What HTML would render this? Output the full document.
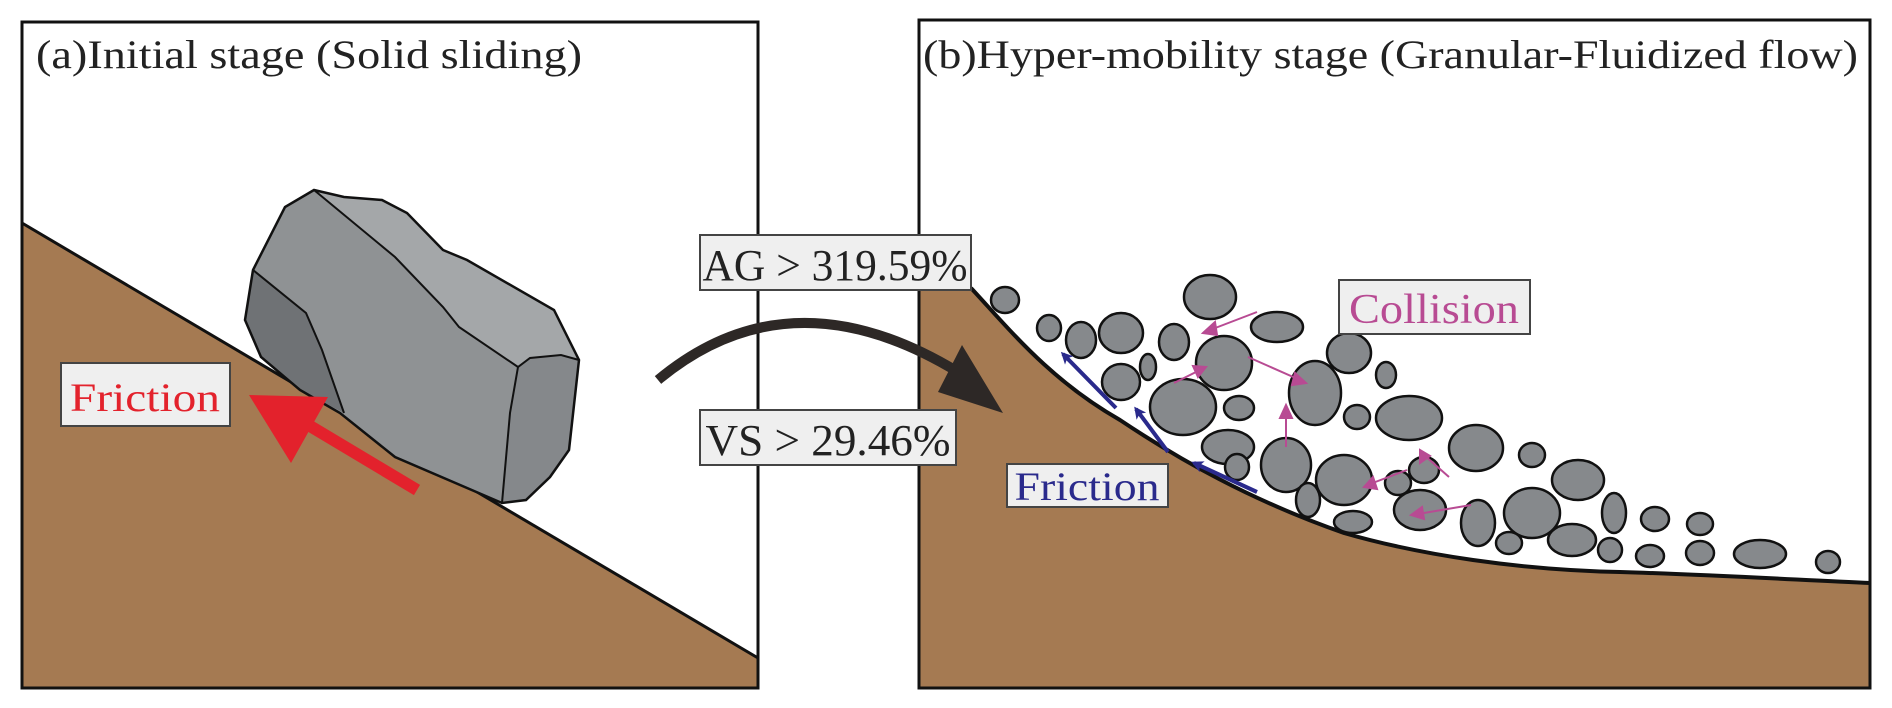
<!DOCTYPE html>
<html><head><meta charset="utf-8"><style>html,body{margin:0;padding:0;background:#fff}svg{display:block}</style></head>
<body>
<svg width="1892" height="708" viewBox="0 0 1892 708" xmlns="http://www.w3.org/2000/svg" font-family="Liberation Serif, serif">
<defs>
<marker id="mb" markerWidth="12" markerHeight="12" refX="9" refY="6" orient="auto" markerUnits="userSpaceOnUse"><path d="M0,0 L12,6 L0,12 L3,6z" fill="#2a2a8c"/></marker>
</defs>
<rect width="1892" height="708" fill="#fff"/>
<polygon points="22,223 758,658 758,688 22,688" fill="#a57a52"/>
<line x1="22" y1="223" x2="758" y2="658" stroke="#111" stroke-width="3"/>
<rect x="22" y="22" width="736" height="666" fill="none" stroke="#111" stroke-width="3"/>
<text x="36" y="68" font-size="40" fill="#222" textLength="546" lengthAdjust="spacingAndGlyphs">(a)Initial stage (Solid sliding)</text>
<polygon points="314,190 344,197 382,200 407,213 443,250 467,260 554,310 579,360 569,450 550,477 526,500 502,503 395,457 340,413 300,390 261,357 245,320 253,270 285,207" fill="#8f9294"/>
<polygon points="253,270 306,313 322,350 344,413 300,390 261,357 245,320" fill="#6f7275"/>
<polygon points="314,190 344,197 382,200 407,213 443,250 467,260 554,310 579,360 561,355 530,358 518,367 459,327 443,307 395,257" fill="#a4a7a9"/>
<polygon points="518,367 530,358 561,355 579,360 569,450 550,477 526,500 502,503 510,413" fill="#85888b"/>
<polyline points="253,270 306,313 322,350 344,413" fill="none" stroke="#111" stroke-width="2"/>
<polyline points="314,190 395,257 443,307 459,327 518,367 530,358 561,355 579,360" fill="none" stroke="#111" stroke-width="2"/>
<polyline points="518,367 510,413 502,503" fill="none" stroke="#111" stroke-width="2"/>
<polygon points="314,190 344,197 382,200 407,213 443,250 467,260 554,310 579,360 569,450 550,477 526,500 502,503 395,457 340,413 300,390 261,357 245,320 253,270 285,207" fill="none" stroke="#111" stroke-width="2.5"/>
<line x1="417" y1="490" x2="300" y2="420" stroke="#e3222c" stroke-width="12"/>
<polygon points="249,395 328,397 291,463" fill="#e3222c"/>
<rect x="61" y="363" width="169" height="63" fill="#efefef" stroke="#444" stroke-width="2"/>
<text x="145" y="411" font-size="40" fill="#e3222c" text-anchor="middle" textLength="150" lengthAdjust="spacingAndGlyphs">Friction</text>
<path d="M919,290 L971,288 C1010,330 1050,380 1120,420 C1180,460 1250,500 1344,533 C1420,555 1520,570 1620,572 C1720,575 1800,580 1870,583 L1870,688 L919,688 Z" fill="#a57a52"/>
<path d="M971,288 C1010,330 1050,380 1120,420 C1180,460 1250,500 1344,533 C1420,555 1520,570 1620,572 C1720,575 1800,580 1870,583" fill="none" stroke="#111" stroke-width="4"/>
<rect x="919" y="20" width="951" height="668" fill="none" stroke="#111" stroke-width="3"/>
<text x="923" y="68" font-size="40" fill="#222" textLength="935" lengthAdjust="spacingAndGlyphs">(b)Hyper-mobility stage (Granular-Fluidized flow)</text>
<g fill="#86898c" stroke="#111" stroke-width="2.5">
<ellipse cx="1005" cy="300" rx="14" ry="13"/>
<ellipse cx="1049" cy="328" rx="12" ry="13"/>
<ellipse cx="1081" cy="340" rx="15" ry="18"/>
<ellipse cx="1121" cy="333" rx="22" ry="20"/>
<ellipse cx="1174" cy="342" rx="15" ry="18"/>
<ellipse cx="1210" cy="297" rx="26" ry="22"/>
<ellipse cx="1277" cy="327" rx="26" ry="15"/>
<ellipse cx="1224" cy="363" rx="28" ry="27"/>
<ellipse cx="1121" cy="382" rx="19" ry="18"/>
<ellipse cx="1148" cy="367" rx="8" ry="13"/>
<ellipse cx="1183" cy="407" rx="33" ry="28"/>
<ellipse cx="1239" cy="408" rx="15" ry="12"/>
<ellipse cx="1228" cy="447" rx="26" ry="17"/>
<ellipse cx="1237" cy="467" rx="12" ry="13"/>
<ellipse cx="1315" cy="393" rx="26" ry="32"/>
<ellipse cx="1349" cy="353" rx="22" ry="20"/>
<ellipse cx="1386" cy="375" rx="10" ry="13"/>
<ellipse cx="1357" cy="417" rx="13" ry="12"/>
<ellipse cx="1409" cy="418" rx="33" ry="22"/>
<ellipse cx="1286" cy="465" rx="25" ry="27"/>
<ellipse cx="1344" cy="480" rx="28" ry="25"/>
<ellipse cx="1398" cy="483" rx="13" ry="12"/>
<ellipse cx="1424" cy="470" rx="15" ry="13"/>
<ellipse cx="1476" cy="448" rx="27" ry="23"/>
<ellipse cx="1532" cy="455" rx="13" ry="12"/>
<ellipse cx="1578" cy="480" rx="26" ry="20"/>
<ellipse cx="1532" cy="513" rx="28" ry="25"/>
<ellipse cx="1478" cy="523" rx="17" ry="23"/>
<ellipse cx="1420" cy="510" rx="26" ry="20"/>
<ellipse cx="1353" cy="522" rx="19" ry="11"/>
<ellipse cx="1308" cy="500" rx="12" ry="17"/>
<ellipse cx="1572" cy="540" rx="24" ry="16"/>
<ellipse cx="1509" cy="543" rx="13" ry="11"/>
<ellipse cx="1614" cy="513" rx="12" ry="20"/>
<ellipse cx="1655" cy="519" rx="14" ry="12"/>
<ellipse cx="1700" cy="524" rx="13" ry="11"/>
<ellipse cx="1610" cy="550" rx="12" ry="12"/>
<ellipse cx="1650" cy="556" rx="14" ry="11"/>
<ellipse cx="1700" cy="553" rx="14" ry="12"/>
<ellipse cx="1760" cy="554" rx="26" ry="14"/>
<ellipse cx="1828" cy="562" rx="12" ry="11"/>
</g>
<g stroke="#2a2a8c" stroke-width="4" fill="none" marker-end="url(#mb)">
<line x1="1116" y1="408" x2="1063" y2="354"/>
<line x1="1168" y1="452" x2="1136" y2="409"/>
<line x1="1257" y1="492" x2="1194" y2="463"/>
</g>
<g stroke="#b84b93" stroke-width="2" fill="#b84b93">
<line x1="1257" y1="312" x2="1210" y2="330"/><polygon points="1203,333 1215,322 1217,335"/>
<line x1="1174" y1="383" x2="1200" y2="370"/><polygon points="1206,367 1193,366 1198,377"/>
<line x1="1248" y1="357" x2="1300" y2="380"/><polygon points="1306,383 1295,373 1292,385"/>
<line x1="1286" y1="447" x2="1286" y2="413"/><polygon points="1286,405 1280,418 1292,418"/>
<line x1="1407" y1="470" x2="1370" y2="484"/><polygon points="1364,487 1373,477 1377,489"/>
<line x1="1449" y1="477" x2="1424" y2="455"/><polygon points="1420,450 1420,463 1430,456"/>
<line x1="1471" y1="505" x2="1418" y2="514"/><polygon points="1411,515 1422,507 1424,519"/>
</g>
<rect x="1339" y="280" width="191" height="54" fill="#efefef" stroke="#444" stroke-width="2"/>
<text x="1434" y="323" font-size="42" fill="#b84b93" text-anchor="middle" textLength="170" lengthAdjust="spacingAndGlyphs">Collision</text>
<rect x="1007" y="464" width="161" height="43" fill="#efefef" stroke="#444" stroke-width="2"/>
<text x="1087" y="500" font-size="40" fill="#2a2a8c" text-anchor="middle" textLength="145" lengthAdjust="spacingAndGlyphs">Friction</text>
<path d="M658,380 Q790,270 958,372" fill="none" stroke="#2d2826" stroke-width="10"/>
<polygon points="1003,413 962,345 938,392" fill="#2d2826"/>
<rect x="700" y="235" width="271" height="55" fill="#efefef" stroke="#444" stroke-width="2"/>
<text x="835" y="280" font-size="44" fill="#222" text-anchor="middle" textLength="265" lengthAdjust="spacingAndGlyphs">AG &gt; 319.59%</text>
<rect x="700" y="410" width="256" height="55" fill="#efefef" stroke="#444" stroke-width="2"/>
<text x="828" y="455" font-size="44" fill="#222" text-anchor="middle" textLength="245" lengthAdjust="spacingAndGlyphs">VS &gt; 29.46%</text>
</svg>
</body></html>
